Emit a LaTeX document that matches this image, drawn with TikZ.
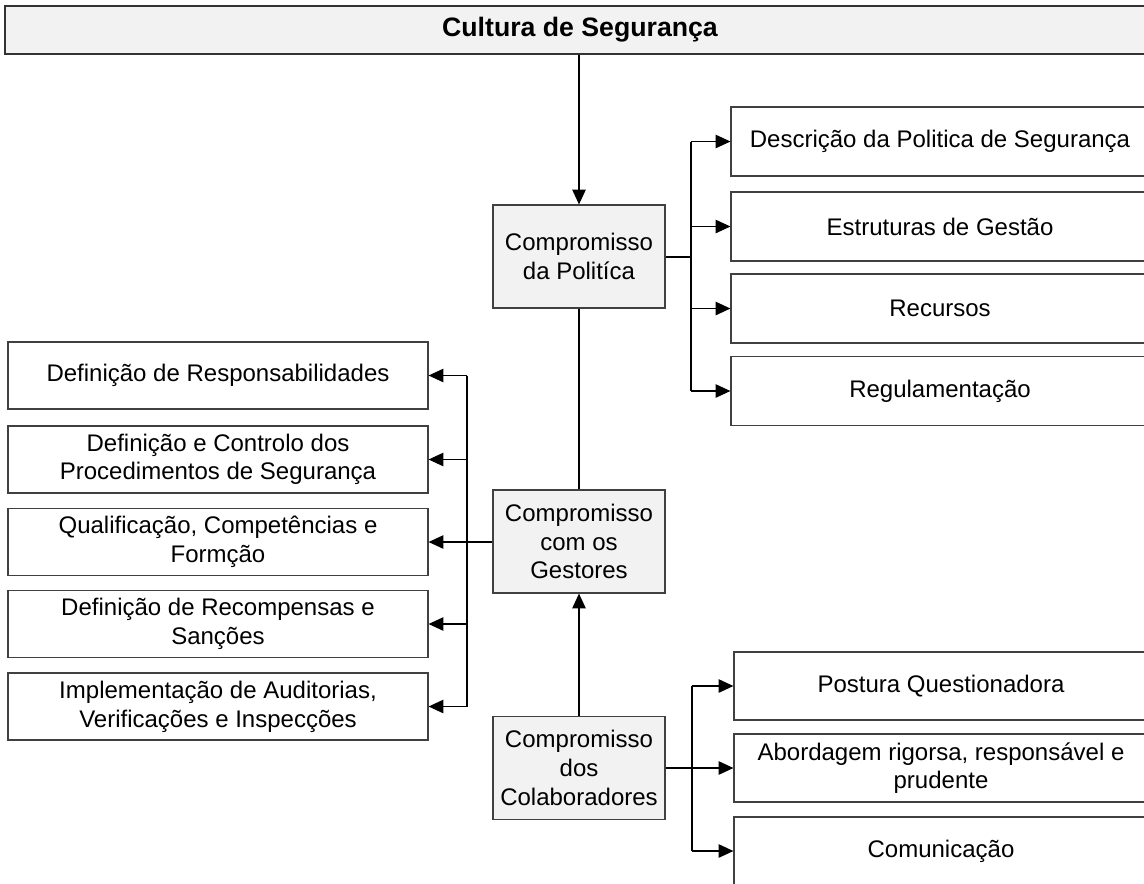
\documentclass[tikz,border=0pt]{standalone}
\usepackage{fontspec}
\setmainfont{Liberation Sans}
\usetikzlibrary{arrows.meta}

\tikzset{every picture/.style={line width=0.9pt}}
\tikzset{
  box/.style={draw=black!75, fill=white, align=center, inner sep=0.75pt,
    font=\fontsize{18}{21.5}\selectfont},
  graybox/.style={box, fill=black!5, minimum width=129pt, minimum height=77.25pt},
  leftbox/.style={box, minimum width=315pt, minimum height=50.25pt},
  rightbox/.style={box, minimum width=313.5pt, minimum height=51.75pt},
  lowbox/.style={box, minimum width=310.5pt, minimum height=51pt},
  arr/.style={-{Triangle[length=11pt,width=10pt]}}
}

\begin{document}
\begin{tikzpicture}[x=0.75pt,y=0.75pt,yscale=-1,xscale=1]
\useasboundingbox (0,0) rectangle (1144,883);
\clip (0,0) rectangle (1144,883);

%Title bar
\node [draw=black!80, fill=black!5, minimum width=862.5pt, minimum height=36pt,
  font=\bfseries\fontsize{20}{24}\selectfont] (cult) at (580,30) {Cultura de Segurança};

% Central column
\node [graybox] (pol) at (579,256.5) {Compromisso\\da Politíca};
\node [graybox] (ges) at (579,541.5) {Compromisso\\com os\\Gestores};
\node [graybox] (col) at (579,768) {Compromisso\\dos\\Colaboradores};

% Right boxes (policy)
\node [rightbox] (desc) at (940,141.5) {Descrição da Politica de Segurança};
\node [rightbox] (estr) at (940,226.5) {Estruturas de Gestão};
\node [rightbox] (recu) at (940,308.5) {Recursos};
\node [rightbox] (regu) at (940,391) {Regulamentação};

% Left boxes (managers)
\node [leftbox] (resp) at (218,375.5) {Definição de Responsabilidades};
\node [leftbox] (proc) at (218,459.5) {Definição e Controlo dos\\Procedimentos de Segurança};
\node [leftbox] (qual) at (218,542) {Qualificação, Competências e\\Formção};
\node [leftbox] (reco) at (218,624) {Definição de Recompensas e\\Sanções};
\node [leftbox] (audi) at (218,706.5) {Implementação de Auditorias,\\Verificações e Inspecções};

% Lower right boxes (collaborators)
\node [lowbox] (post) at (941,686) {Postura Questionadora};
\node [lowbox] (abor) at (941,768) {Abordagem rigorsa, responsável e\\prudente};
\node [lowbox] (comu) at (941,851) {Comunicação};

% Bus coordinates
\coordinate (pb) at (691,257);
\coordinate (gb) at (467,542);
\coordinate (cb) at (692,768);

% Connectors
\draw [arr] (cult.south -| pol.north) -- (pol.north);
\draw (pol.south) -- (ges.north);
\draw [arr] (col.north) -- (ges.south);

\draw (pol.east |- pb) -- (pb);
\draw (pb |- desc.west) -- (pb |- regu.west);
\foreach \n in {desc,estr,recu,regu}
  \draw [arr] (pb |- \n.west) -- (\n.west);

\draw (ges.west |- gb) -- (gb);
\draw (gb |- resp.east) -- (gb |- audi.east);
\foreach \n in {resp,proc,qual,reco,audi}
  \draw [arr] (gb |- \n.east) -- (\n.east);

\draw (col.east |- cb) -- (cb);
\draw (cb |- post.west) -- (cb |- comu.west);
\foreach \n in {post,abor,comu}
  \draw [arr] (cb |- \n.west) -- (\n.west);

\end{tikzpicture}
\end{document}
